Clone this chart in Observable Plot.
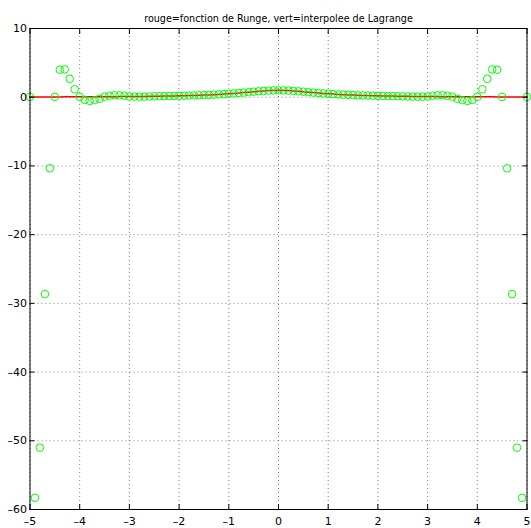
<!DOCTYPE html>
<html>
<head>
<meta charset="utf-8">
<script src="https://cdn.jsdelivr.net/npm/d3@7"></script>
<script src="https://cdn.jsdelivr.net/npm/@observablehq/plot@0.6"></script>
<style>
  html, body { margin: 0; padding: 0; background: #fff; }
</style>
</head>
<body>
<div id="chart"></div>
<script>
const title = "rouge=fonction de Runge, vert=interpolee de Lagrange";

const xs = [
  -5.0, -4.9, -4.8, -4.7, -4.6, -4.5, -4.4, -4.3, -4.2, -4.1,
  -4.0, -3.9, -3.8, -3.7, -3.6, -3.5, -3.4, -3.3, -3.2, -3.1,
  -3.0, -2.9, -2.8, -2.7, -2.6, -2.5, -2.4, -2.3, -2.2, -2.1,
  -2.0, -1.9, -1.8, -1.7, -1.6, -1.5, -1.4, -1.3, -1.2, -1.1,
  -1.0, -0.9, -0.8, -0.7, -0.6, -0.5, -0.4, -0.3, -0.2, -0.1,
  0.0,
  0.1, 0.2, 0.3, 0.4, 0.5, 0.6, 0.7, 0.8, 0.9, 1.0,
  1.1, 1.2, 1.3, 1.4, 1.5, 1.6, 1.7, 1.8, 1.9, 2.0,
  2.1, 2.2, 2.3, 2.4, 2.5, 2.6, 2.7, 2.8, 2.9, 3.0,
  3.1, 3.2, 3.3, 3.4, 3.5, 3.6, 3.7, 3.8, 3.9, 4.0,
  4.1, 4.2, 4.3, 4.4, 4.5, 4.6, 4.7, 4.8, 4.9, 5.0
];

// red curve (Runge function)
const runge = [
  0.038, 0.040, 0.042, 0.043, 0.045, 0.047, 0.049, 0.051, 0.054, 0.056,
  0.059, 0.062, 0.065, 0.068, 0.072, 0.075, 0.080, 0.084, 0.089, 0.094,
  0.100, 0.106, 0.113, 0.121, 0.129, 0.138, 0.148, 0.159, 0.171, 0.185,
  0.200, 0.217, 0.236, 0.257, 0.281, 0.308, 0.338, 0.372, 0.410, 0.452,
  0.500, 0.552, 0.610, 0.671, 0.735, 0.800, 0.862, 0.917, 0.962, 0.990,
  1.000,
  0.990, 0.962, 0.917, 0.862, 0.800, 0.735, 0.671, 0.610, 0.552, 0.500,
  0.452, 0.410, 0.372, 0.338, 0.308, 0.281, 0.257, 0.236, 0.217, 0.200,
  0.185, 0.171, 0.159, 0.148, 0.138, 0.129, 0.121, 0.113, 0.106, 0.100,
  0.094, 0.089, 0.084, 0.080, 0.075, 0.072, 0.068, 0.065, 0.062, 0.059,
  0.056, 0.054, 0.051, 0.049, 0.047, 0.045, 0.043, 0.042, 0.040, 0.038
];

// green circles (Lagrange interpolant)
const lagrange = [
  0.038, -58.30, -51.00, -28.65, -10.35, 0.047, 4.000, 4.050, 2.680, 1.150,
  0.059, -0.390, -0.540, -0.430, -0.230, 0.075, 0.210, 0.280, 0.280, 0.210,
  0.100, 0.080, 0.065, 0.075, 0.105, 0.138, 0.150, 0.162, 0.174, 0.187,
  0.200, 0.217, 0.236, 0.257, 0.281, 0.308, 0.338, 0.372, 0.410, 0.452,
  0.500, 0.552, 0.610, 0.671, 0.735, 0.800, 0.862, 0.917, 0.962, 0.990,
  1.000,
  0.990, 0.962, 0.917, 0.862, 0.800, 0.735, 0.671, 0.610, 0.552, 0.500,
  0.452, 0.410, 0.372, 0.338, 0.308, 0.281, 0.257, 0.236, 0.217, 0.200,
  0.187, 0.174, 0.162, 0.150, 0.138, 0.105, 0.075, 0.065, 0.080, 0.100,
  0.210, 0.280, 0.280, 0.210, 0.075, -0.230, -0.430, -0.540, -0.390, 0.059,
  1.150, 2.680, 4.050, 4.000, 0.047, -10.35, -28.65, -51.00, -58.30, 0.038
];

const xTicks = [-5, -4, -3, -2, -1, 0, 1, 2, 3, 4, 5];
const yTicks = [-60, -50, -40, -30, -20, -10, 0, 10];

const data = xs.map((x, i) => ({x, f: runge[i], p: lagrange[i]}));

const fmt = d => (d < 0 ? "\u2013" + Math.abs(d) : String(d));
const blank = () => "";

const chart = Plot.plot({
  width: 531,
  height: 528,
  marginLeft: 29.5,
  marginRight: 4.5,
  marginTop: 28,
  marginBottom: 19,
  style: {
    fontFamily: "'DejaVu Sans', 'Liberation Sans', Arial, sans-serif",
    fontSize: "11px",
    background: "#fff",
    color: "#000"
  },
  x: {domain: [-5, 5]},
  y: {domain: [-60, 10]},
  marks: [
    Plot.gridX(xTicks, {stroke: "#000", strokeOpacity: 0.5, strokeDasharray: "1,3"}),
    Plot.gridY(yTicks, {stroke: "#000", strokeOpacity: 0.5, strokeDasharray: "1,3"}),
    Plot.line(data, {x: "x", y: "f", stroke: "#ff0000", strokeWidth: 1.5}),
    Plot.dot(data, {x: "x", y: "p", r: 3.8, stroke: "#00ff00", strokeWidth: 1, fill: "none"}),
    Plot.frame({stroke: "#000"}),
    Plot.axisX(xTicks, {anchor: "bottom", tickSize: -5, tickFormat: blank, label: null}),
    Plot.axisX(xTicks, {anchor: "top", tickSize: -5, tickFormat: blank, label: null}),
    Plot.axisY(yTicks, {anchor: "left", tickSize: -5, tickFormat: blank, label: null}),
    Plot.axisY(yTicks, {anchor: "right", tickSize: -5, tickFormat: blank, label: null}),
    Plot.axisX(xTicks, {anchor: "bottom", tickSize: 0, tickPadding: 8, tickFormat: fmt, label: null, fontSize: 11}),
    Plot.axisY(yTicks, {anchor: "left", tickSize: 0, tickPadding: 3, tickFormat: fmt, label: null, fontSize: 11}),
    Plot.text([title], {frameAnchor: "top", dy: -13, text: d => d, fontSize: 9.6})
  ]
});

document.getElementById("chart").appendChild(chart);
</script>
</body>
</html>
